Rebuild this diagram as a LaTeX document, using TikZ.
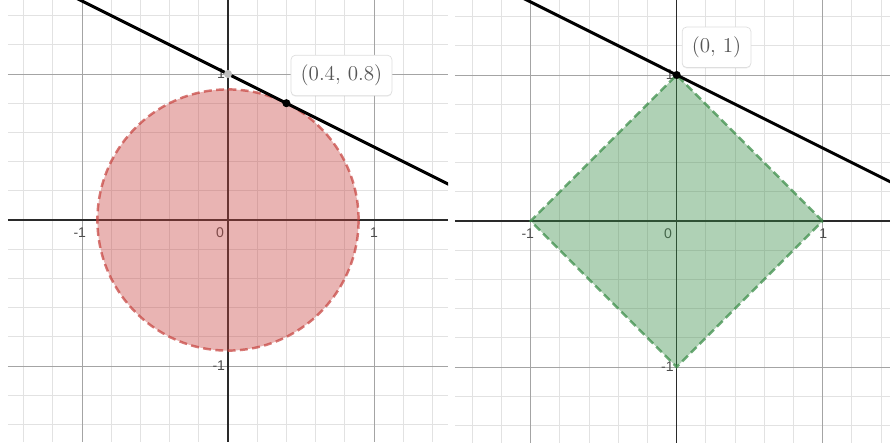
\documentclass[tikz,border=0pt]{standalone}
\usepackage{fontspec}
\setsansfont{Liberation Sans}
\usepackage{tikz}
\usetikzlibrary{shadows}
\definecolor{dred}{HTML}{C74440}
\definecolor{dgreen}{HTML}{388C46}
\definecolor{minor}{HTML}{E2E2E2}
\definecolor{major}{HTML}{A4A4A4}
\definecolor{axis}{HTML}{2A2A2A}
\definecolor{tick}{HTML}{4D4D4D}
\definecolor{ink}{HTML}{555555}
\definecolor{hole}{HTML}{BDBDBD}

\begin{document}
\begin{tikzpicture}[x=2.92cm, y=2.92cm,
  minorln/.style={minor, line width=0.55pt},
  majorln/.style={major, line width=0.5pt},
  axisln/.style={axis, line width=0.85pt},
  ticklbl/.style={font=\sffamily\fontsize{8}{9}\selectfont, text=tick, inner sep=0.5pt},
  region/.style={line width=1.4pt, dash pattern=on 4.5pt off 2.5pt, fill opacity=0.4, draw opacity=0.72},
  tangent/.style={black, line width=1.7pt},
  dot/.style={circle, fill=#1, inner sep=0pt, minimum size=4.6pt},
  tag/.style={draw=black!13, fill=white, rounded corners=2.5pt, text=ink, font=\fontsize{11.5}{13}\selectfont, inner xsep=5.5pt, minimum height=23pt, drop shadow={opacity=0.12, shadow xshift=0pt, shadow yshift=-0.6pt}}]
\useasboundingbox (-1.5616,-1.548) rectangle (4.534,1.5068);

% left panel: disc x^2+y^2 < 0.8
\begin{scope}
\clip (-1.507,-1.52) rectangle (1.507,1.507);
\foreach \i in {-7,...,7} {
  \draw[minorln] (\i*0.2,-1.52) -- (\i*0.2,1.507);
  \draw[minorln] (-1.507,\i*0.2) -- (1.507,\i*0.2);
}
\foreach \i in {-1,1} {
  \draw[majorln] (\i,-1.52) -- (\i,1.507);
  \draw[majorln] (-1.507,\i) -- (1.507,\i);
}
\draw[axisln] (-1.507,0) -- (1.507,0);
\draw[axisln] (0,-1.52) -- (0,1.507);
\node[ticklbl] (lxm) at (-1.015,-0.085) {-1};
\node[ticklbl] (lzero) at (-0.055,-0.085) {0};
\node[ticklbl] (lxp) at (1.0,-0.085) {1};
\node[ticklbl, anchor=east] (lym) at (-0.012,-1) {-1};
\node[ticklbl, anchor=east] (lyp) at (-0.012,1) {1};
\draw[region, draw=dred, fill=dred] (0,0) circle ({sqrt(0.8)});
\coordinate (lA) at (-1.2,1.6);
\coordinate (lB) at (1.6,0.2);
\draw[tangent] (lA) -- (lB);
\end{scope}
\node[dot=hole] (lhole) at (0,1) {};
\node[dot=black] (lpt) at (0.4,0.8) {};
\node[tag] (ltag) at (0.777,0.99) {$(0.4,\,0.8)$};

% right panel: diamond |x|+|y| < 1
\begin{scope}[shift={(3.073,-0.007)}]
\begin{scope}
\clip (-1.52,-1.52) rectangle (1.464,1.52);
\foreach \i in {-7,...,7} {
  \draw[minorln] (\i*0.2,-1.52) -- (\i*0.2,1.52);
  \draw[minorln] (-1.52,\i*0.2) -- (1.464,\i*0.2);
}
\foreach \i in {-1,1} {
  \draw[majorln] (\i,-1.52) -- (\i,1.52);
  \draw[majorln] (-1.52,\i) -- (1.464,\i);
}
\draw[axisln] (-1.52,0) -- (1.464,0);
\draw[axisln] (0,-1.52) -- (0,1.52);
\node[ticklbl] (rxm) at (-1.02,-0.085) {-1};
\node[ticklbl] (rzero) at (-0.06,-0.085) {0};
\node[ticklbl] (rxp) at (1.004,-0.085) {1};
\node[ticklbl, anchor=east] (rym) at (-0.012,-1) {-1};
\node[ticklbl, anchor=east] (ryp) at (-0.012,1) {1};
\draw[region, draw=dgreen, fill=dgreen] (1,0) -- (0,1) -- (-1,0) -- (0,-1) -- cycle;
\coordinate (rA) at (-1.2,1.6);
\coordinate (rB) at (1.6,0.2);
\draw[tangent] (rA) -- (rB);
\end{scope}
\node[dot=black] (rpt) at (0,1) {};
\node[tag] (rtag) at (0.273,1.19) {$(0,\,1)$};
\end{scope}
\end{tikzpicture}
\end{document}
